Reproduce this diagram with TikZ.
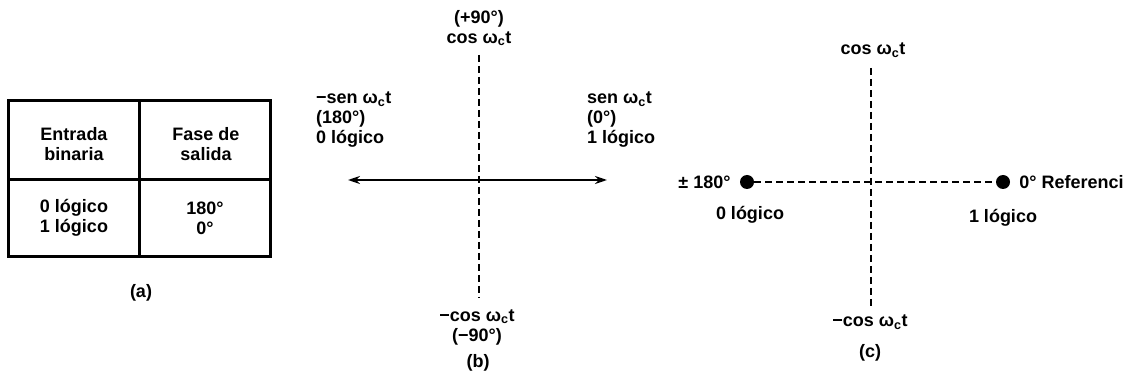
\documentclass[tikz,border=0pt]{standalone}
\usepackage{fontspec}
\setmainfont{Liberation Sans}
\usetikzlibrary{arrows.meta, positioning}
\tikzset{
  gridline/.style={line width=3pt},
  axis/.style={line width=2pt},
  dashaxis/.style={line width=2pt, dash pattern=on 7pt off 4pt},
  arrow/.style={{Stealth[length=12pt,width=8pt]}-{Stealth[length=12pt,width=8pt]}},
  dot/.style={circle, fill=black, minimum size=14pt, inner sep=0pt},
  lbl/.style={font=\bfseries\fontsize{18}{20}\selectfont, align=center, inner sep=0pt}
}
\newcommand{\wct}{ω\textsubscript{c}t}

\begin{document}
\begin{tikzpicture}[x=1pt, y=-1pt]
		\useasboundingbox (0,0) rectangle (1130,379);
		% (a) tabla
		\draw[gridline] (8,101) rectangle (270,257);
		\draw[gridline] (139,101) -- (139,257);
		\draw[gridline] (8,180) -- (270,180);
		\node[lbl] (head in) at (74,144) {Entrada\\binaria};
		\node[lbl] (head out) at (206,144) {Fase de\\salida};
		\node[lbl] (col in) at (74,218) {0 lógico\\1 lógico};
		\node[lbl] (col out) at (205,218) {180°\\0°};
		\node[lbl] (cap a) at (141,293) {(a)};
		
		% (b) ejes
		\coordinate (b top) at (479,55);
		\coordinate (b bot) at (479,298);
		\coordinate (b left) at (348,180);
		\coordinate (b right) at (607,180);
		\draw[dashaxis] (b top) -- (b bot);
		\draw[axis, arrow] (b left) -- (b right);
		\node[lbl] (b up) at (479,28) {(+90°)\\cos \wct};
		\node[lbl, anchor=west, align=left] (b neg) at (316,120) {−sen \wct\\(180°)\\0 lógico};
		\node[lbl, anchor=west, align=left] (b pos) at (587,120) {sen \wct\\(0°)\\1 lógico};
		\node[lbl] (b down) at (477,327) {−cos \wct\\(−90°)};
		\node[lbl] (cap b) at (478,363) {(b)};
		
		% (c) constelacion
		\coordinate (c top) at (871,68);
		\coordinate (c bot) at (871,306);
		\draw[dashaxis] (c top) -- (c bot);
		\node[dot] (pi) at (747,182) {};
		\node[dot] (zero) at (1003,182) {};
		\draw[dashaxis] (pi) -- (zero);
		\node[lbl, left=9pt of pi] (pi lbl) {± 180°};
		\node[lbl, right=9pt of zero] (zero lbl) {0° Referenci};
		\node[lbl] (pi bit) at (750,215) {0 lógico};
		\node[lbl] (zero bit) at (1003,218) {1 lógico};
		\node[lbl] (c up) at (873,50) {cos \wct};
		\node[lbl] (c down) at (870,322) {−cos \wct};
		\node[lbl] (cap c) at (870,353) {(c)};
	\end{tikzpicture}
\end{document}
